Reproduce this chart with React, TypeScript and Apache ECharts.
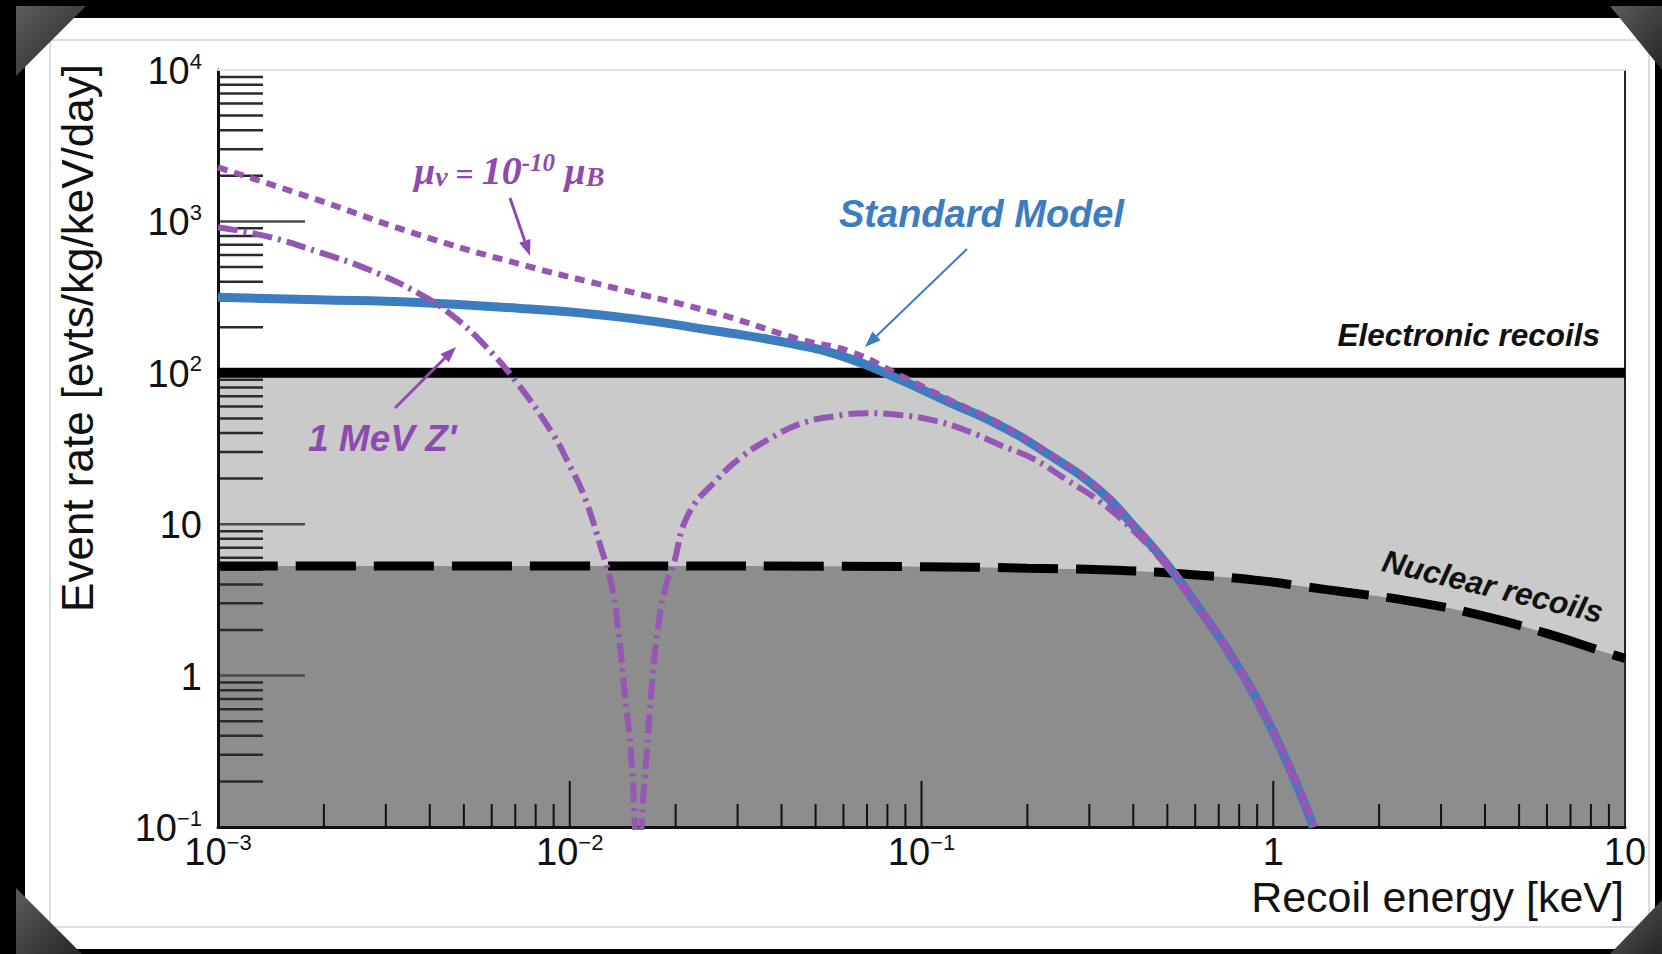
import React, { useEffect, useRef } from "react";
import * as echarts from "echarts";

// Axis ranges (log-log)
const X_MIN = 1e-3;
const X_MAX = 10;
const Y_MIN = 0.1;
const Y_MAX = 1e4;

// Standard Model neutrino-electron recoil rate [evts/kg/keV/day] vs recoil energy [keV]
const smEnergy = [0.001, 0.00192, 0.00371, 0.00713, 0.0137, 0.0264, 0.0437, 0.0618, 0.0869, 0.1205, 0.167, 0.232, 0.321, 0.4, 0.498, 0.619, 0.769, 0.957, 1.19, 1.3];
const smRate = [315, 304, 291, 267, 234, 188, 154, 125, 90, 63.5, 44.9, 28.5, 16.7, 9.8, 5.46, 2.73, 1.29, 0.52, 0.17, 0.1];

// Rate with a neutrino magnetic moment of 1e-10 Bohr magnetons
const mmEnergy = [0.001, 0.00192, 0.00371, 0.00713, 0.0137, 0.0264, 0.0452, 0.0627, 0.0869, 0.1205, 0.167, 0.232, 0.321, 0.4, 0.498, 0.619, 0.769, 0.957, 1.19, 1.31];
const mmRate = [2275, 1387, 818, 526, 359, 245, 166, 138, 96, 66, 46, 29, 17, 10, 5.6, 2.8, 1.32, 0.54, 0.18, 0.1];

// Rate with a 1 MeV Z' (destructive interference near 15 eV)
const zpEnergy = [0.001, 0.001387, 0.001923, 0.002667, 0.003707, 0.004603, 0.005728, 0.007129, 0.008872, 0.009886, 0.011015, 0.012303, 0.013122, 0.013709, 0.014322, 0.014962, 0.015311, 0.01566, 0.015996, 0.01652, 0.017061, 0.017824, 0.018836, 0.019656, 0.021677, 0.026363, 0.0309, 0.0365, 0.04519, 0.05623, 0.06998, 0.0869, 0.1081, 0.1346, 0.1671, 0.208, 0.2588, 0.3214, 0.3999, 0.498, 0.619, 0.769, 0.957, 1.19, 1.294];
const zpRate = [916, 793, 630, 483, 336, 242, 152, 84, 40.7, 25.7, 15.1, 6.85, 4.06, 2.09, 0.78, 0.29, 0.1, 0.02, 0.1, 0.29, 0.78, 2.09, 4.06, 5.27, 11.5, 20, 28, 36, 46, 51.5, 54.1, 52.6, 48.5, 41.4, 33.4, 27.0, 19.6, 14.1, 9.1, 5.25, 2.66, 1.26, 0.51, 0.168, 0.1];

// Nuclear-recoil background level
const nrEnergy = [0.001, 0.01, 0.1, 0.1995, 0.4, 0.62, 0.957, 1.245, 1.618, 2.5, 3.87, 5.98, 9.27, 10];
const nrRate = [5.3, 5.3, 5.24, 5.12, 4.91, 4.6, 4.19, 3.85, 3.55, 3.08, 2.51, 1.9, 1.37, 1.3];

// Electronic-recoil background level
const erEnergy = [0.001, 10];
const erRate = [100, 100];

// Tick positions (majors drawn inside the frame; those on the frame edges are left out)
const xMajorTicks = [0.01, 0.1, 1];
const yMajorTicks = [1, 10, 100, 1000];
const xMinorTicks = [
  0.002, 0.003, 0.004, 0.005, 0.006, 0.007, 0.008, 0.009,
  0.02, 0.03, 0.04, 0.05, 0.06, 0.07, 0.08, 0.09,
  0.2, 0.3, 0.4, 0.5, 0.6, 0.7, 0.8, 0.9,
  2, 3, 4, 5, 6, 7, 8, 9,
];
const yMinorTicks = [
  0.2, 0.3, 0.4, 0.5, 0.6, 0.7, 0.8, 0.9,
  2, 3, 4, 5, 6, 7, 8, 9,
  20, 30, 40, 50, 60, 70, 80, 90,
  200, 300, 400, 500, 600, 700, 800, 900,
  2000, 3000, 4000, 5000, 6000, 7000, 8000, 9000,
];

// Tick labels: decade exponent -> [base, superscript]
const xTickExponents = [-3, -2, -1, 0, 1];
const xTickText = [["10", "−3"], ["10", "−2"], ["10", "−1"], ["1", ""], ["10", ""]];
const yTickExponents = [-1, 0, 1, 2, 3, 4];
const yTickText = [["10", "−1"], ["1", ""], ["10", ""], ["10", "2"], ["10", "3"], ["10", "4"]];

const SANS = '"Liberation Sans", Arial, Helvetica, sans-serif';
const SERIF = '"Liberation Serif", "Times New Roman", serif';
const PURPLE = "#9656b4";
const PURPLE_TEXT = "#8e4aae";
const BLUE = "#3b7dbf";

const zip = (xs: number[], ys: number[]) => xs.map((x, i) => [x, ys[i]]);

const makeFormatter = (exps: number[], texts: string[][]) => (v: number) => {
  const e = Math.round(Math.log10(v));
  const i = exps.indexOf(e);
  if (i < 0) return "";
  const [b, s] = texts[i];
  return s ? `{b|${b}}{s|${s}}` : `{b|${b}}`;
};

const labelRich = {
  b: { fontSize: 38, fontFamily: SANS, color: "#111", verticalAlign: "bottom", lineHeight: 40 },
  s: { fontSize: 22, fontFamily: SANS, color: "#111", verticalAlign: "top", lineHeight: 22 },
};

function arrow(x1: number, y1: number, x2: number, y2: number, color: string, width: number, headLen: number, headWidth: number) {
  const dx = x2 - x1;
  const dy = y2 - y1;
  const len = Math.hypot(dx, dy);
  const ux = dx / len;
  const uy = dy / len;
  const bx = x2 - ux * headLen;
  const by = y2 - uy * headLen;
  const px = (-uy * headWidth) / 2;
  const py = (ux * headWidth) / 2;
  return [
    { type: "line", z: 50, shape: { x1, y1, x2: bx, y2: by }, style: { stroke: color, lineWidth: width } },
    { type: "polygon", z: 50, shape: { points: [[x2, y2], [bx + px, by + py], [bx - px, by - py]] }, style: { fill: color } },
  ];
}

function cornerFill() {
  return new echarts.graphic.LinearGradient(0, 0, 1, 1, [
    { offset: 0, color: "#5c5c5c" },
    { offset: 1, color: "#262626" },
  ]);
}

// Custom series drawing tick marks from the frame edge inwards
function tickSeries(name: string, data: number[][], dx: number, dy: number, stroke: string, width: number) {
  return {
    name,
    type: "custom",
    coordinateSystem: "cartesian2d",
    silent: true,
    z: 3,
    clip: false,
    data,
    encode: { x: 0, y: 1 },
    renderItem: (_p: any, api: any) => {
      const p = api.coord([api.value(0), api.value(1)]);
      return { type: "line", shape: { x1: p[0], y1: p[1], x2: p[0] + dx, y2: p[1] + dy }, style: { stroke, lineWidth: width } };
    },
  };
}

export default function App() {
  const ref = useRef<HTMLDivElement>(null);

  useEffect(() => {
    if (!ref.current) return;
    const chart = echarts.init(ref.current, undefined, { renderer: "svg" });

    const purpleRich = (font: string, va: string) => ({ font, fill: PURPLE_TEXT, textFill: PURPLE_TEXT, verticalAlign: va });

    const option: any = {
      animation: false,
      backgroundColor: "#000",
      grid: { left: 218, top: 70, right: 37, bottom: 127, containLabel: false },
      xAxis: [
        {
          type: "log",
          logBase: 10,
          min: X_MIN,
          max: X_MAX,
          position: "bottom",
          z: 3,
          axisLine: { show: true, onZero: false, lineStyle: { color: "#111", width: 3 } },
          axisTick: { show: false },
          axisLabel: {
            show: true,
            margin: 4,
            showMinLabel: true,
            showMaxLabel: true,
            formatter: makeFormatter(xTickExponents, xTickText),
            rich: labelRich,
          },
          splitLine: { show: false },
          minorTick: { show: false },
        },
        {
          type: "log",
          logBase: 10,
          min: X_MIN,
          max: X_MAX,
          position: "top",
          z: 3,
          axisLine: { show: true, onZero: false, lineStyle: { color: "#e0e0e0", width: 2 } },
          axisTick: { show: false },
          axisLabel: { show: false },
          splitLine: { show: false },
        },
      ],
      yAxis: [
        {
          type: "log",
          logBase: 10,
          min: Y_MIN,
          max: Y_MAX,
          position: "left",
          z: 3,
          axisLine: { show: true, onZero: false, lineStyle: { color: "#111", width: 3 } },
          axisTick: { show: false },
          axisLabel: {
            show: true,
            margin: 16,
            showMinLabel: true,
            showMaxLabel: true,
            formatter: makeFormatter(yTickExponents, yTickText),
            rich: labelRich,
          },
          splitLine: { show: false },
          minorTick: { show: false },
        },
        {
          type: "log",
          logBase: 10,
          min: Y_MIN,
          max: Y_MAX,
          position: "right",
          z: 3,
          axisLine: { show: true, onZero: false, lineStyle: { color: "#222", width: 2 } },
          axisTick: { show: false },
          axisLabel: { show: false },
          splitLine: { show: false },
        },
      ],
      series: [
        {
          name: "Electronic recoils band",
          type: "line",
          data: zip(erEnergy, erRate),
          symbol: "none",
          silent: true,
          z: 1,
          lineStyle: { width: 0, opacity: 0 },
          areaStyle: { color: "#cacaca", opacity: 1, origin: "start" },
        },
        {
          name: "Nuclear recoils band",
          type: "line",
          data: zip(nrEnergy, nrRate),
          smooth: 0.5,
          symbol: "none",
          silent: true,
          z: 2,
          lineStyle: { width: 0, opacity: 0 },
          areaStyle: { color: "#8d8d8d", opacity: 1, origin: "start" },
        },
        tickSeries("y minor ticks", yMinorTicks.map((v) => [X_MIN, v]), 45, 0, "#2a2a2a", 2.5),
        tickSeries("y major ticks", yMajorTicks.map((v) => [X_MIN, v]), 87, 0, "#4a4a4a", 2.5),
        tickSeries("x minor ticks", xMinorTicks.map((v) => [v, Y_MIN]), 0, -23, "#111", 2),
        tickSeries("x major ticks", xMajorTicks.map((v) => [v, Y_MIN]), 0, -46, "#111", 2),
        {
          name: "Electronic recoils",
          type: "line",
          data: zip(erEnergy, erRate),
          symbol: "none",
          z: 4,
          lineStyle: { color: "#000", width: 10 },
        },
        {
          name: "Nuclear recoils",
          type: "line",
          data: zip(nrEnergy, nrRate),
          smooth: 0.5,
          symbol: "none",
          z: 4,
          lineStyle: { color: "#000", width: 9, type: [60, 18], cap: "butt" },
        },
        {
          name: "Standard Model",
          type: "line",
          data: zip(smEnergy, smRate),
          smooth: 0.5,
          symbol: "none",
          z: 5,
          lineStyle: { color: BLUE, width: 9 },
        },
        {
          name: "1 MeV Z'",
          type: "line",
          data: zip(zpEnergy, zpRate),
          smooth: 0.45,
          symbol: "none",
          z: 6,
          lineStyle: { color: PURPLE, width: 6, type: [20, 6, 3, 6], cap: "butt" },
        },
        {
          name: "magnetic moment",
          type: "line",
          data: zip(mmEnergy, mmRate),
          smooth: 0.5,
          symbol: "none",
          z: 6,
          lineStyle: { color: PURPLE, width: 6, type: [10, 7], cap: "butt" },
        },
      ],
      graphic: {
        elements: [
          // card
          { type: "rect", z: -10, shape: { x: 25, y: 18, width: 1630, height: 931 }, style: { fill: "#fff" } },
          { type: "rect", z: -9, shape: { x: 50, y: 40, width: 1599, height: 887 }, style: { fill: "none", stroke: "#d2d2d2", lineWidth: 1.5 } },
          // photo corners
          { type: "polygon", z: 60, shape: { points: [[16, 6], [86, 6], [16, 76]] }, style: { fill: cornerFill() } },
          { type: "polygon", z: 60, shape: { points: [[1610, 6], [1662, 6], [1662, 70]] }, style: { fill: cornerFill() } },
          { type: "polygon", z: 60, shape: { points: [[16, 888], [16, 954], [82, 954]] }, style: { fill: cornerFill() } },
          { type: "polygon", z: 60, shape: { points: [[1610, 954], [1662, 954], [1662, 900]] }, style: { fill: cornerFill() } },
          // axis titles
          {
            type: "text",
            z: 50,
            x: 77,
            y: 338,
            rotation: Math.PI / 2,
            style: {
              text: "Event rate [evts/kg/keV/day]",
              font: `44px ${SANS}`,
              fill: "#111",
              textAlign: "center",
              textVerticalAlign: "middle",
            },
          },
          {
            type: "text",
            z: 50,
            x: 1624,
            y: 897,
            style: {
              text: "Recoil energy [keV]",
              font: `43px ${SANS}`,
              fill: "#111",
              textAlign: "right",
              textVerticalAlign: "middle",
            },
          },
          // curve annotations
          {
            type: "text",
            z: 50,
            x: 414,
            y: 170,
            style: {
              text: "{m|μ}{n|ν}{e| = }{t|10}{p|-10}{m| μ}{n|B}",
              textAlign: "left",
              textVerticalAlign: "middle",
              rich: {
                m: purpleRich(`italic bold 38px ${SERIF}`, "bottom"),
                n: purpleRich(`italic bold 28px ${SERIF}`, "bottom"),
                e: purpleRich(`bold 32px ${SERIF}`, "bottom"),
                t: purpleRich(`italic bold 40px ${SERIF}`, "bottom"),
                p: purpleRich(`italic bold 25px ${SERIF}`, "top"),
              },
            },
          },
          ...arrow(510, 198, 530, 256, PURPLE_TEXT, 3, 16, 12),
          {
            type: "text",
            z: 50,
            x: 308,
            y: 438,
            style: {
              text: "1 MeV Z'",
              font: `italic bold 37px ${SANS}`,
              fill: PURPLE_TEXT,
              textAlign: "left",
              textVerticalAlign: "middle",
            },
          },
          ...arrow(395, 408, 456, 347, PURPLE_TEXT, 3, 16, 12),
          {
            type: "text",
            z: 50,
            x: 839,
            y: 214,
            style: {
              text: "Standard Model",
              font: `italic bold 38px ${SANS}`,
              fill: BLUE,
              textAlign: "left",
              textVerticalAlign: "middle",
            },
          },
          ...arrow(967, 249, 865, 347, BLUE, 2, 16, 12),
          {
            type: "text",
            z: 50,
            x: 1600,
            y: 335,
            style: {
              text: "Electronic recoils",
              font: `italic bold 31.5px ${SANS}`,
              fill: "#111",
              textAlign: "right",
              textVerticalAlign: "middle",
            },
          },
          {
            type: "text",
            z: 50,
            x: 1383,
            y: 560,
            rotation: -0.235,
            style: {
              text: "Nuclear recoils",
              font: `italic bold 31.5px ${SANS}`,
              fill: "#111",
              textAlign: "left",
              textVerticalAlign: "middle",
            },
          },
        ],
      },
    };

    chart.setOption(option);
    return () => chart.dispose();
  }, []);

  return (
    <div
      ref={ref}
      style={{ position: "fixed", left: 0, top: 0, width: 1662, height: 954, background: "#000" }}
    />
  );
}
